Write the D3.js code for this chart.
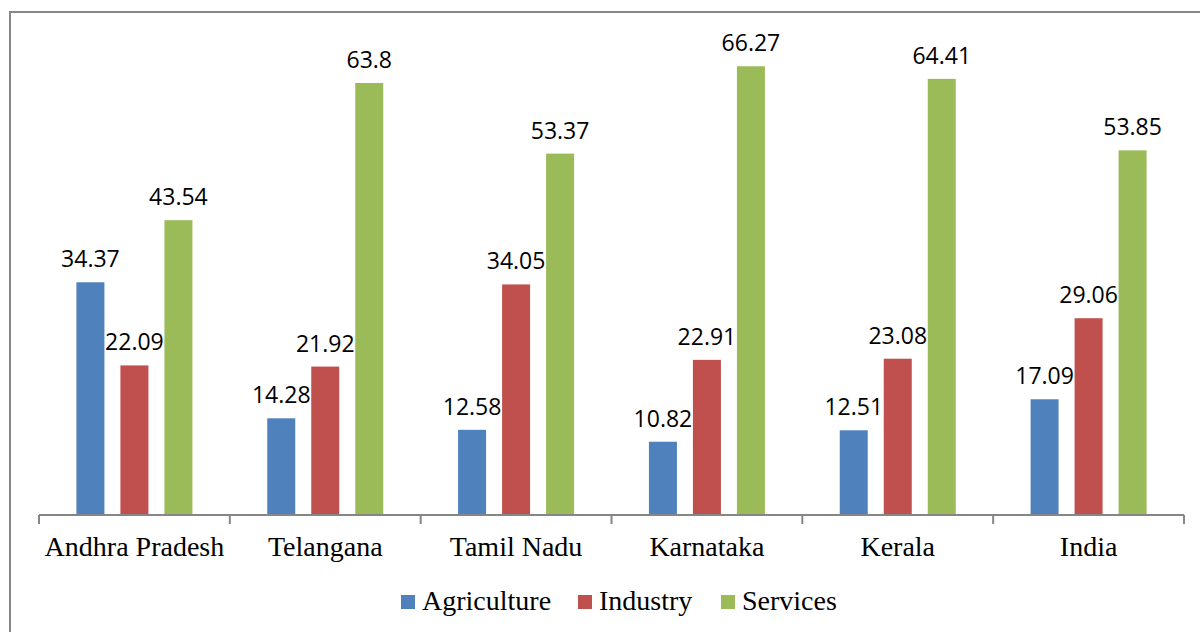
<!DOCTYPE html>
<html>
<head>
<meta charset="utf-8">
<script src="https://cdn.jsdelivr.net/npm/d3@7"></script>
<style>
  body { margin: 0; background: #fff; }
  .value-label { font-family: "Open Sans", sans-serif; font-size: 23px; fill: #000; }
  .cat-label, .legend-label { font-family: "Liberation Serif", "Times New Roman", serif; font-size: 28px; fill: #000; }
</style>
</head>
<body>
<div id="chart"></div>
<script>
var width = 1200,
    height = 632;

var states = ["Andhra Pradesh", "Telangana", "Tamil Nadu", "Karnataka", "Kerala", "India"];
var sectors = ["Agriculture", "Industry", "Services"];
var agriculture = [34.37, 14.28, 12.58, 10.82, 12.51, 17.09];
var industry = [22.09, 21.92, 34.05, 22.91, 23.08, 29.06];
var services = [43.54, 63.8, 53.37, 66.27, 64.41, 53.85];
var colors = ["#4F81BD", "#C0504D", "#9BBB59"];

var seriesValues = [agriculture, industry, services];
var rows = states.map(function(s, i) {
  return {state: s, values: sectors.map(function(k, j) { return {sector: k, value: seriesValues[j][i]}; })};
});

var svg = d3.select("#chart").append("svg")
  .attr("width", width)
  .attr("height", height);

//outer frame of the chart area
svg.append("rect")
  .attr("x", 10)
  .attr("y", 12)
  .attr("width", 1220)
  .attr("height", 660)
  .attr("fill", "#fff")
  .attr("stroke", "#868686")
  .attr("stroke-width", 2);

var x0 = d3.scaleBand()
  .domain(states)
  .range([39, 1184]);

var x1 = d3.scaleBand()
  .domain(sectors)
  .range([0, 132])
  .paddingInner(16 / 44)
  .paddingOuter(8 / 44);

var groupOffset = (x0.bandwidth() - 132) / 2;

var y = d3.scaleLinear()
  .domain([0, 70])
  .range([515, 41]);

var color = d3.scaleOrdinal().domain(sectors).range(colors);

var groups = svg.append("g")
  .selectAll("g")
  .data(rows)
  .enter().append("g")
    .attr("transform", function(d) { return "translate(" + (x0(d.state) + groupOffset) + ",0)"; });

groups.selectAll("rect")
  .data(function(d) { return d.values; })
  .enter().append("rect")
    .attr("x", function(d) { return x1(d.sector); })
    .attr("y", function(d) { return y(d.value); })
    .attr("width", x1.bandwidth())
    .attr("height", function(d) { return y(0) - y(d.value); })
    .attr("fill", function(d) { return color(d.sector); });

groups.selectAll("text")
  .data(function(d) { return d.values; })
  .enter().append("text")
    .attr("class", "value-label")
    .attr("text-anchor", "middle")
    .attr("x", function(d) { return x1(d.sector) + x1.bandwidth() / 2; })
    .attr("y", function(d) { return y(d.value) - 15; })
    .text(function(d) { return d.value; });

//category axis with ticks between groups
var axis = svg.append("g").attr("class", "x-axis");
axis.append("line")
  .attr("x1", 39).attr("x2", 1184)
  .attr("y1", y(0)).attr("y2", y(0))
  .attr("stroke", "#868686")
  .attr("stroke-width", 2);

var tickPos = states.map(function(s) { return x0(s); }).concat([x0.range()[1]]);
axis.selectAll(".tick")
  .data(tickPos)
  .enter().append("line")
    .attr("class", "tick")
    .attr("x1", function(d) { return d; })
    .attr("x2", function(d) { return d; })
    .attr("y1", y(0))
    .attr("y2", y(0) + 9)
    .attr("stroke", "#868686")
    .attr("stroke-width", 2);

axis.selectAll(".cat-label")
  .data(states)
  .enter().append("text")
    .attr("class", "cat-label")
    .attr("text-anchor", "middle")
    .attr("x", function(d) { return x0(d) + x0.bandwidth() / 2; })
    .attr("y", 556)
    .text(function(d) { return d; });

//legend
var legendX = [401, 578, 721];
var legend = svg.append("g").attr("class", "legend")
  .selectAll("g")
  .data(sectors)
  .enter().append("g")
    .attr("transform", function(d, i) { return "translate(" + legendX[i] + ",0)"; });

legend.append("rect")
  .attr("x", 0)
  .attr("y", 595)
  .attr("width", 14)
  .attr("height", 14)
  .attr("fill", function(d) { return color(d); });

legend.append("text")
  .attr("class", "legend-label")
  .attr("x", 21)
  .attr("y", 610)
  .text(function(d) { return d; });
</script>
</body>
</html>
